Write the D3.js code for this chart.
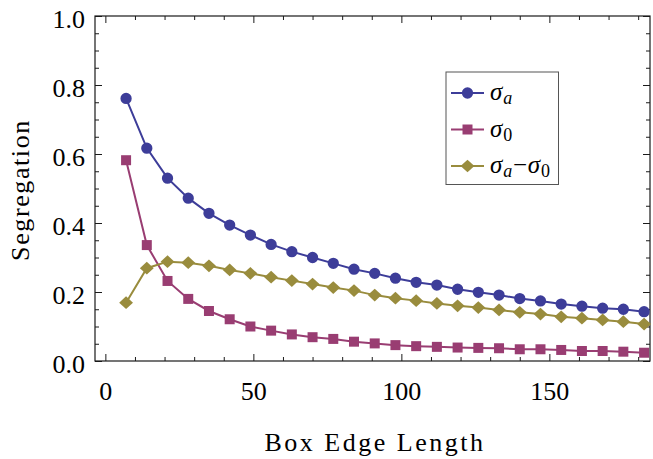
<!DOCTYPE html>
<html>
<head>
<meta charset="utf-8">
<script src="https://cdn.jsdelivr.net/npm/d3@7"></script>
</head>
<body style="margin:0">
<svg id="chart" width="653" height="459"></svg>
<script>
// box edge lengths
const boxEdge = [7, 14, 21, 28, 35, 42, 49, 56, 63, 70, 77, 84, 91, 98, 105, 112, 119, 126, 133, 140, 147, 154, 161, 168, 175, 182];

const sigmaA = [0.761, 0.617, 0.530, 0.472, 0.428, 0.394, 0.365, 0.338, 0.317, 0.300,
    0.283, 0.266, 0.254, 0.240, 0.228, 0.220, 0.208, 0.199, 0.191, 0.181,
    0.174, 0.165, 0.159, 0.153, 0.150, 0.143];

const sigma0 = [0.582, 0.336, 0.232, 0.180, 0.145, 0.121, 0.100, 0.088, 0.077, 0.069,
    0.064, 0.056, 0.051, 0.046, 0.043, 0.041, 0.039, 0.038, 0.037, 0.034,
    0.034, 0.032, 0.029, 0.029, 0.027, 0.024];

const sigmaDiff = [0.169, 0.269, 0.288, 0.285, 0.276, 0.264, 0.254, 0.243, 0.233, 0.223,
    0.213, 0.204, 0.191, 0.182, 0.175, 0.167, 0.160, 0.155, 0.148, 0.141,
    0.136, 0.128, 0.124, 0.119, 0.114, 0.107];

const xTicks = [0, 50, 100, 150];
const yTicks = [0, 0.2, 0.4, 0.6, 0.8, 1.0];

const fontList = '"Liberation Serif", "Times New Roman", Tinos, "DejaVu Serif", serif';

// rotated square, a little wider than tall
const diamond = {
    draw(context, size) {
        const w = Math.sqrt(size) * 0.75;
        const h = w * 0.92;
        context.moveTo(-w, 0);
        context.lineTo(0, -h);
        context.lineTo(w, 0);
        context.lineTo(0, h);
        context.closePath();
    },
};

const series = [
    { name: 'a', values: sigmaA, color: '#3d3d99', symbol: d3.symbolCircle, size: 100 },
    { name: '0', values: sigma0, color: '#993d72', symbol: d3.symbolSquare, size: 100 },
    { name: 'diff', values: sigmaDiff, color: '#998c3d', symbol: diamond, size: 85 },
];

const svg = d3.select('#chart');
const plotLeft = 95;
const plotRight = 650;
const plotTop = 16;
const plotBottom = 361;

const x = d3.scaleLinear().domain([-3.5, 184]).range([plotLeft, plotRight]);
const y = d3.scaleLinear().domain([0, 1]).range([plotBottom, plotTop]);

const frameColor = '#1a1a1a';

function serifText(sel, size) {
    sel.style('font-family', fontList)
        .attr('font-size', size)
        .attr('fill', '#000');
}

// ticks point inward on all four sides
function drawTicks(g, axis) {
    g.call(axis);
    g.select('.domain').remove();
    g.attr('font-family', null);
    g.selectAll('.tick line').attr('stroke', frameColor).attr('stroke-width', 1);
}

const xMinor = d3.range(0, 181, 10).filter((d) => d % 50 !== 0);
const yMinor = d3.range(0, 1.0001, 0.05).filter((d, i) => i % 4 !== 0);

// bottom
svg.append('g').attr('transform', `translate(0,${plotBottom})`)
    .call(drawTicks, d3.axisBottom(x).tickValues(xMinor).tickSize(-4).tickFormat(''));
const xAxisG = svg.append('g').attr('transform', `translate(0,${plotBottom})`);
drawTicks(xAxisG, d3.axisBottom(x).tickValues(xTicks).tickSize(-7).tickFormat(d3.format('d')));
xAxisG.selectAll('.tick text').attr('dy', 0).attr('y', 39).call(serifText, 26);

// top
svg.append('g').attr('transform', `translate(0,${plotTop})`)
    .call(drawTicks, d3.axisTop(x).tickValues(xMinor).tickSize(-4).tickFormat(''));
svg.append('g').attr('transform', `translate(0,${plotTop})`)
    .call(drawTicks, d3.axisTop(x).tickValues(xTicks).tickSize(-7).tickFormat(''));

// left
svg.append('g').attr('transform', `translate(${plotLeft},0)`)
    .call(drawTicks, d3.axisLeft(y).tickValues(yMinor).tickSize(-4).tickFormat(''));
const yAxisG = svg.append('g').attr('transform', `translate(${plotLeft},0)`);
drawTicks(yAxisG, d3.axisLeft(y).tickValues(yTicks).tickSize(-7).tickFormat(d3.format('.1f')));
yAxisG.selectAll('.tick text').attr('x', -10).attr('dy', 11).call(serifText, 26);

// right
svg.append('g').attr('transform', `translate(${plotRight},0)`)
    .call(drawTicks, d3.axisRight(y).tickValues(yMinor).tickSize(-4).tickFormat(''));
svg.append('g').attr('transform', `translate(${plotRight},0)`)
    .call(drawTicks, d3.axisRight(y).tickValues(yTicks).tickSize(-7).tickFormat(''));

// frame
svg.append('rect')
    .attr('x', plotLeft).attr('y', plotTop)
    .attr('width', plotRight - plotLeft).attr('height', plotBottom - plotTop)
    .attr('fill', 'none').attr('stroke', frameColor).attr('stroke-width', 1.2);

// lines and markers
const line = d3.line()
    .x((d, i) => x(boxEdge[i]))
    .y((d) => y(d));

series.forEach((s) => {
    svg.append('path')
        .datum(s.values)
        .attr('d', line)
        .attr('fill', 'none')
        .attr('stroke', s.color)
        .attr('stroke-width', 2);

    svg.append('g').selectAll('path')
        .data(s.values)
        .join('path')
        .attr('transform', (d, i) => `translate(${x(boxEdge[i])},${y(d)})`)
        .attr('d', d3.symbol().type(s.symbol).size(s.size))
        .attr('fill', s.color);
});

// axis titles
svg.append('text')
    .attr('x', 375).attr('y', 451)
    .attr('text-anchor', 'middle')
    .attr('letter-spacing', 2.5)
    .call(serifText, 26)
    .text('Box Edge Length');

svg.append('text')
    .attr('transform', 'translate(29,190) rotate(-90)')
    .attr('text-anchor', 'middle')
    .attr('letter-spacing', 1.6)
    .call(serifText, 26)
    .text('Segregation');

// legend
const legend = svg.append('g');
legend.append('rect')
    .attr('x', 446).attr('y', 72)
    .attr('width', 112.5).attr('height', 112.5)
    .attr('fill', '#fff').attr('stroke', '#555').attr('stroke-width', 1);

const legendY = [93, 129.5, 166];
series.forEach((s, i) => {
    const ly = legendY[i];
    legend.append('line')
        .attr('x1', 451).attr('x2', 484)
        .attr('y1', ly).attr('y2', ly)
        .attr('stroke', s.color).attr('stroke-width', 2);
    legend.append('path')
        .attr('transform', `translate(467.5,${ly})`)
        .attr('d', d3.symbol().type(s.symbol).size(s.size))
        .attr('fill', s.color);

    const t = legend.append('text')
        .attr('x', 490).attr('y', ly + 7)
        .attr('letter-spacing', 0.8)
        .call(serifText, 25);
    t.append('tspan').attr('font-style', 'italic').text('σ');
    if (s.name === 'a') {
        t.append('tspan').attr('font-style', 'italic').attr('font-size', 18).attr('dy', 4).text('a');
    } else if (s.name === '0') {
        t.append('tspan').attr('font-size', 18).attr('dy', 4).text('0');
    } else {
        t.append('tspan').attr('font-style', 'italic').attr('font-size', 18).attr('dy', 4).text('a');
        t.append('tspan').attr('dy', -4).text('\u2212');
        t.append('tspan').attr('font-style', 'italic').text('σ');
        t.append('tspan').attr('font-size', 18).attr('dy', 4).text('0');
    }
});
</script>
</body>
</html>
